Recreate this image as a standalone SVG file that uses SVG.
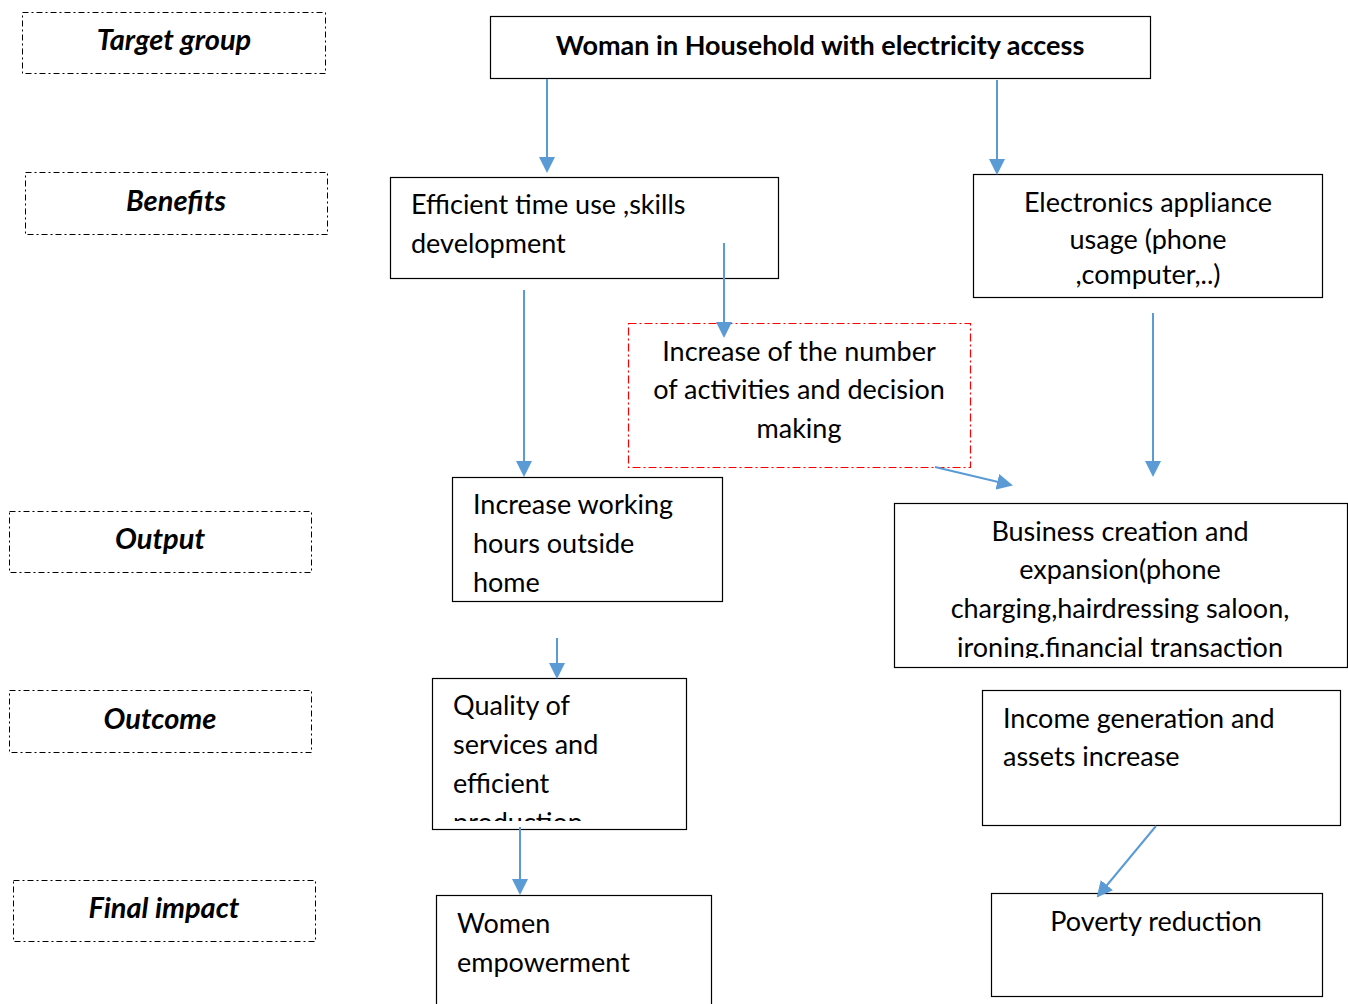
<svg xmlns="http://www.w3.org/2000/svg" width="1348" height="1004" viewBox="0 0 1348 1004">
<style>
.lbl rect{fill:#fff;stroke:#000;stroke-width:1;stroke-dasharray:6 3 2 3}
.lbl text{font-family:Lato,"Liberation Sans",sans-serif;font-weight:bold;font-style:italic;font-size:29px;text-anchor:middle;fill:#000}
.box rect{fill:#fff;stroke:#000;stroke-width:1.2}
.box text{font-family:Lato,"Liberation Sans",sans-serif;font-size:27px;fill:#000}
.c{text-anchor:middle}
#red rect{stroke:#f00;stroke-dasharray:8 3 2 3}
#conn line{stroke:#5B9BD5;stroke-width:2;marker-end:url(#ah)}
</style>
<defs>
<marker id="ah" markerWidth="8" markerHeight="8" refX="7" refY="4" orient="auto" markerUnits="strokeWidth">
<path d="M0,0 L8,4 L0,8 z" fill="#5B9BD5"/>
</marker>
<clipPath id="cpHome"><rect x="452" y="477" width="270" height="117"/></clipPath>
<clipPath id="cpQual"><rect x="432" y="678" width="254" height="143"/></clipPath>
<clipPath id="cpBus"><rect x="894" y="503" width="453" height="155"/></clipPath>
</defs>
<rect width="1348" height="1004" fill="#fff"/>

<g id="lbl-target" class="lbl"><rect x="22.5" y="12.5" width="303" height="61"/><text x="174" y="50">Target group</text></g>
<g id="lbl-benefits" class="lbl"><rect x="25.5" y="172.5" width="302" height="62"/><text x="176" y="211">Benefits</text></g>
<g id="lbl-output" class="lbl"><rect x="9.5" y="511.5" width="302" height="61"/><text x="160" y="549">Output</text></g>
<g id="lbl-outcome" class="lbl"><rect x="9.5" y="690.5" width="302" height="62"/><text x="160" y="729">Outcome</text></g>
<g id="lbl-final" class="lbl"><rect x="13.5" y="880.5" width="302" height="61"/><text x="164" y="918">Final impact</text></g>

<g id="n-woman" class="box"><rect x="490.5" y="16.5" width="660" height="62"/><text x="820" y="55" class="c" style="font-weight:bold;font-size:27px">Woman in Household with electricity access</text></g>

<g id="n-efficient" class="box"><rect x="390.5" y="177.5" width="388" height="101"/>
<text x="411" y="214">Efficient time use ,skills</text><text x="411" y="253">development</text></g>

<g id="n-electronics" class="box"><rect x="973.5" y="174.5" width="349" height="123"/>
<text class="c" x="1148" y="212">Electronics appliance</text><text class="c" x="1148" y="249">usage (phone</text><text class="c" x="1148" y="284">,computer,..)</text></g>

<g id="red" class="box"><rect x="628.5" y="323.5" width="342" height="144"/>
<text class="c" x="799" y="361">Increase of the number</text><text class="c" x="799" y="399">of activities and decision</text><text class="c" x="799" y="438">making</text></g>

<g id="n-working" class="box"><rect x="452.5" y="477.5" width="270" height="124"/>
<g clip-path="url(#cpHome)"><text x="473" y="514">Increase working</text><text x="473" y="553">hours outside</text><text x="473" y="592">home</text></g></g>

<g id="n-business" class="box"><rect x="894.5" y="503.5" width="453" height="164"/>
<g clip-path="url(#cpBus)"><text class="c" x="1120" y="541">Business creation and</text><text class="c" x="1120" y="579">expansion(phone</text><text class="c" x="1120" y="618">charging,hairdressing saloon,</text><text class="c" x="1120" y="657">ironing.financial transaction</text></g></g>

<g id="n-quality" class="box"><rect x="432.5" y="678.5" width="254" height="151"/>
<g clip-path="url(#cpQual)"><text x="453" y="715">Quality of</text><text x="453" y="754">services and</text><text x="453" y="793">efficient</text><text x="453" y="832">production</text></g></g>

<g id="n-income" class="box"><rect x="982.5" y="690.5" width="358" height="135"/>
<text x="1003" y="728">Income generation and</text><text x="1003" y="766">assets increase</text></g>

<g id="n-women" class="box"><rect x="436.5" y="895.5" width="275" height="120"/>
<text x="457" y="933">Women</text><text x="457" y="972">empowerment</text></g>

<g id="n-poverty" class="box"><rect x="991.5" y="893.5" width="331" height="103"/>
<text class="c" x="1156" y="931">Poverty reduction</text></g>

<g id="conn">
<line x1="547" y1="79" x2="547" y2="171"/>
<line x1="997" y1="80" x2="997" y2="173"/>
<line x1="724" y1="243" x2="724" y2="336"/>
<line x1="524" y1="290" x2="524" y2="475"/>
<line x1="1153" y1="313" x2="1153" y2="475"/>
<line x1="935" y1="467" x2="1011" y2="485"/>
<line x1="557" y1="638" x2="557" y2="677"/>
<line x1="520" y1="827" x2="520" y2="893"/>
<line x1="1156" y1="826" x2="1098" y2="896"/>
</g>
</svg>
